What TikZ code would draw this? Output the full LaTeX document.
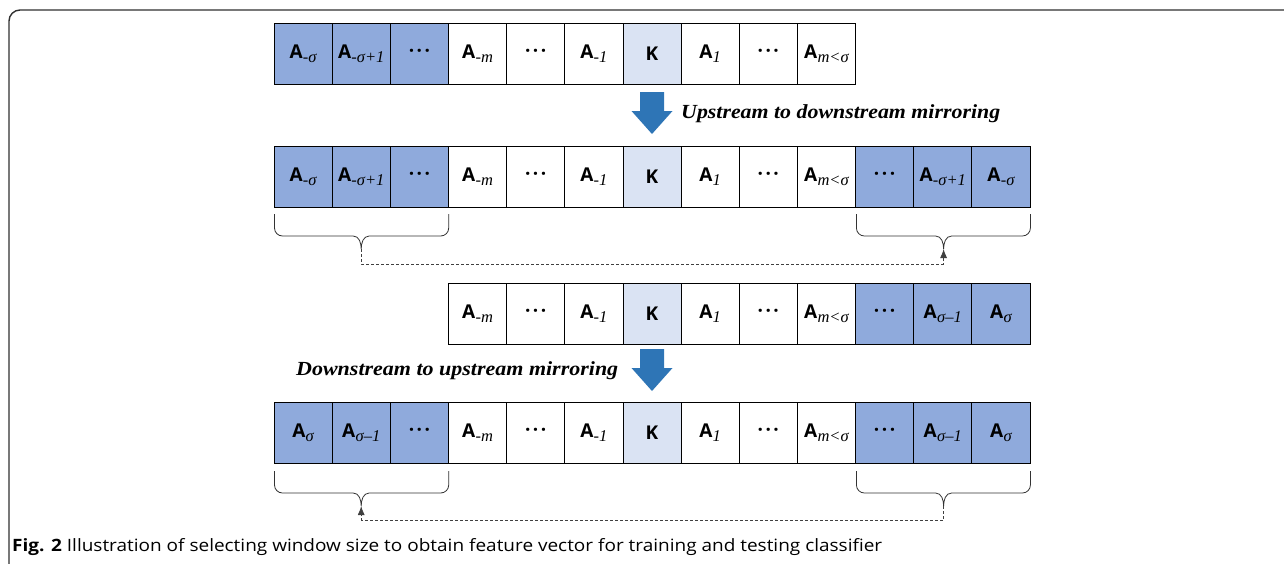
\documentclass[tikz,border=0pt]{standalone}
\usepackage{fontspec}
\usepackage{graphicx}
\setmainfont{Liberation Serif}
\newfontfamily\cellsans{Open Sans}
\usetikzlibrary{arrows.meta}
\definecolor{cellblue}{HTML}{8FAADC}
\definecolor{kblue}{HTML}{DAE3F3}
\definecolor{arrblue}{HTML}{2E75B6}
\definecolor{framegray}{HTML}{303030}
\newcommand\subfnt{\fontsize{16.5}{16.5}\selectfont\rmfamily\itshape\mdseries}
\newcommand\Asub[1]{A\kern0.3pt\raisebox{-4pt}{\subfnt #1}}
\newcommand\Dots{\raisebox{1pt}{·\kern2.5pt·\kern2.5pt·}}
\newcommand\blockarrow[2]{%
  \fill[arrblue] (#1-12,#2) -- (#1+12,#2) -- (#1+12,#2+19) -- (#1+20.5,#2+19) -- (#1,#2+42)
    -- (#1-20.5,#2+19) -- (#1-12,#2+19) -- cycle;}
\begin{document}
\begin{tikzpicture}[x=1pt,y=-1pt,
  cell/.style={draw=black, line width=0.8pt, minimum width=58.15pt, minimum height=61pt, inner sep=0pt,
    font=\cellsans\bfseries\fontsize{19}{19}\selectfont},
  bc/.style={cell, fill=cellblue},
  kc/.style={cell, fill=kblue},
  wc/.style={cell, fill=white},
  bracepath/.style={line width=0.8pt, draw=black!80},
  link/.style={line width=0.8pt, draw=black!75, dash pattern=on 3pt off 2pt, -{Latex[length=9pt,width=7pt]}},
  lbl/.style={font=\bfseries\itshape\fontsize{20}{20}\selectfont, inner sep=0pt}
]
\useasboundingbox (0,0) rectangle (1284,563);
% frame
\draw[line width=1.4pt, draw=framegray, rounded corners=11pt] (9,575) -- (9,10) -- (1300,10);

% row 1
\foreach \s/\t [count=\i from 0] in {bc/{\Asub{-σ}}, bc/{\Asub{-σ+1}}, bc/{\Dots}, wc/{\Asub{-m}}, wc/{\Dots}, wc/{\Asub{-1}}, kc/{K}, wc/{\Asub{1}}, wc/{\Dots}, wc/{\Asub{m<σ}}}
  \node[\s] (ra\i) at ({274+58.15*(\i+0.5)},54) {\t};
% row 2
\foreach \s/\t [count=\i from 0] in {bc/{\Asub{-σ}}, bc/{\Asub{-σ+1}}, bc/{\Dots}, wc/{\Asub{-m}}, wc/{\Dots}, wc/{\Asub{-1}}, kc/{K}, wc/{\Asub{1}}, wc/{\Dots}, wc/{\Asub{m<σ}}, bc/{\Dots}, bc/{\Asub{-σ+1}}, bc/{\Asub{-σ}}}
  \node[\s] (rb\i) at ({274+58.15*(\i+0.5)},176.5) {\t};
% row 3
\foreach \s/\t [count=\i from 3] in {wc/{\Asub{-m}}, wc/{\Dots}, wc/{\Asub{-1}}, kc/{K}, wc/{\Asub{1}}, wc/{\Dots}, wc/{\Asub{m<σ}}, bc/{\Dots}, bc/{\Asub{σ–1}}, bc/{\Asub{σ}}}
  \node[\s] (rc\i) at ({274+58.15*(\i+0.5)},314) {\t};
% row 4
\foreach \s/\t [count=\i from 0] in {bc/{\Asub{σ}}, bc/{\Asub{σ–1}}, bc/{\Dots}, wc/{\Asub{-m}}, wc/{\Dots}, wc/{\Asub{-1}}, kc/{K}, wc/{\Asub{1}}, wc/{\Dots}, wc/{\Asub{m<σ}}, bc/{\Dots}, bc/{\Asub{σ–1}}, bc/{\Asub{σ}}}
  \node[\s] (rd\i) at ({274+58.15*(\i+0.5)},433) {\t};

% block arrows and labels
\blockarrow{652}{92}
\node[lbl, anchor=west] (lab1) at (681,114) {\resizebox{319pt}{\height}{Upstream to downstream mirroring}};
\blockarrow{652}{349}
\node[lbl, anchor=west] (lab2) at (296,371) {\resizebox{322pt}{\height}{Downstream to upstream mirroring}};

% braces row 2
\coordinate (b2l) at (361.2,249);
\coordinate (b2r) at (943.6,249);
\coordinate (d2) at (0,264);
\draw[bracepath] (274.5,214) -- (274.5,228) to[out=-90,in=180] (282.5,236) -- (353.2,236) to[out=0,in=90] (b2l) to[out=90,in=180] (369.2,236) -- (440.7,236) to[out=0,in=-90] (448.7,228) -- (448.7,214);
\draw[bracepath] (856.4,214) -- (856.4,228) to[out=-90,in=180] (864.4,236) -- (935.6,236) to[out=0,in=90] (b2r) to[out=90,in=180] (951.6,236) -- (1022.4,236) to[out=0,in=-90] (1030.4,228) -- (1030.4,214);
\draw[link] (b2l) |- (b2r |- d2) -- (b2r);

% braces row 4
\coordinate (b4l) at (361.2,506);
\coordinate (b4r) at (943.6,506);
\coordinate (d4) at (0,520);
\draw[bracepath] (274.5,471) -- (274.5,485) to[out=-90,in=180] (282.5,493) -- (353.2,493) to[out=0,in=90] (b4l) to[out=90,in=180] (369.2,493) -- (440.7,493) to[out=0,in=-90] (448.7,485) -- (448.7,471);
\draw[bracepath] (856.4,471) -- (856.4,485) to[out=-90,in=180] (864.4,493) -- (935.6,493) to[out=0,in=90] (b4r) to[out=90,in=180] (951.6,493) -- (1022.4,493) to[out=0,in=-90] (1030.4,485) -- (1030.4,471);
\draw[link] (b4r) |- (b4l |- d4) -- (b4l);

% caption
\node[anchor=west, inner sep=0pt, font=\cellsans\fontsize{17}{17}\selectfont] (cap) at (12,547)
  {\resizebox{870pt}{\height}{\textbf{Fig. 2} Illustration of selecting window size to obtain feature vector for training and testing classifier}};
\end{tikzpicture}
\end{document}
